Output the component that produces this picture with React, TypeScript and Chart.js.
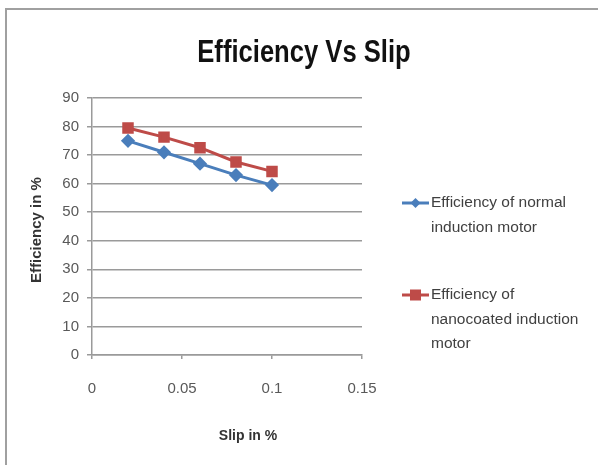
import React, { useEffect, useRef } from "react";
import { Chart, registerables } from "chart.js";

Chart.register(...registerables);

const slipValues = [0.02, 0.04, 0.06, 0.08, 0.1];
const normalEfficiency = [75, 71, 67, 63, 59.5];
const nanoEfficiency = [79.5, 76.3, 72.6, 67.6, 64.3];
const normalLegend = ["Efficiency of normal", "induction motor"];
const nanoLegend = ["Efficiency of", "nanocoated induction", "motor"];
const chartTitle = "Efficiency Vs Slip";
const xAxisTitle = "Slip in %";
const yAxisTitle = "Efficiency in %";

const BLUE = "#4a7ebb";
const RED = "#be4b48";

const decorPlugin = {
  id: "decor",
  afterDraw(chart: any) {
    const ctx = chart.ctx;
    ctx.save();
    // Title (condensed sans)
    ctx.save();
    ctx.fillStyle = "#111";
    ctx.font = "bold 32px 'Liberation Sans'";
    ctx.textAlign = "center";
    ctx.textBaseline = "alphabetic";
    ctx.translate(304, 62);
    ctx.scale(0.8, 1);
    ctx.fillText(chartTitle, 0, 0);
    ctx.restore();

    // X axis title
    ctx.fillStyle = "#333";
    ctx.textAlign = "center";
    ctx.font = "bold 14px 'Liberation Sans'";
    ctx.textBaseline = "middle";
    ctx.fillText(xAxisTitle, 248, 436);

    // Y axis title
    ctx.save();
    ctx.translate(37, 230);
    ctx.rotate(-Math.PI / 2);
    ctx.font = "bold 15px 'Liberation Sans'";
    ctx.fillText(yAxisTitle, 0, 0);
    ctx.restore();

    // Legend
    const items = [
      { lines: normalLegend, color: BLUE, style: "rectRot", y: 203 },
      { lines: nanoLegend, color: RED, style: "rect", y: 295 },
    ];
    ctx.font = "15.5px 'Liberation Sans'";
    ctx.textAlign = "left";
    for (const it of items) {
      ctx.strokeStyle = it.color;
      ctx.lineWidth = 3;
      ctx.beginPath();
      ctx.moveTo(402, it.y);
      ctx.lineTo(429, it.y);
      ctx.stroke();
      ctx.fillStyle = it.color;
      const r = it.style === "rect" ? 5.5 : 5;
      if (it.style === "rect") {
        ctx.fillRect(415.5 - r, it.y - r, 2 * r, 2 * r);
      } else {
        ctx.beginPath();
        ctx.moveTo(415.5, it.y - r);
        ctx.lineTo(415.5 + r, it.y);
        ctx.lineTo(415.5, it.y + r);
        ctx.lineTo(415.5 - r, it.y);
        ctx.closePath();
        ctx.fill();
      }
      ctx.fillStyle = "#404040";
      ctx.textBaseline = "middle";
      it.lines.forEach((ln, i) => ctx.fillText(ln, 431, it.y + i * 24.5));
    }
    ctx.restore();
  },
};

export default function App() {
  const ref = useRef<HTMLCanvasElement>(null);
  useEffect(() => {
    document.body.style.margin = "0";
    const chart = new Chart(ref.current as HTMLCanvasElement, {
      type: "line",
      data: {
        datasets: [
          {
            label: normalLegend.join(" "),
            data: slipValues.map((x, i) => ({ x, y: normalEfficiency[i] })),
            borderColor: BLUE,
            backgroundColor: BLUE,
            borderWidth: 3,
            pointStyle: "rectRot",
            pointRadius: 5,
            tension: 0,
          },
          {
            label: nanoLegend.join(" "),
            data: slipValues.map((x, i) => ({ x, y: nanoEfficiency[i] })),
            borderColor: RED,
            backgroundColor: RED,
            borderWidth: 3,
            pointStyle: "rect",
            pointRadius: 6,
            tension: 0,
          },
        ],
      },
      options: {
        animation: false,
        responsive: false,
        devicePixelRatio: 1,
        layout: { padding: { left: 20, top: 98, right: 236, bottom: 20 } },
        plugins: {
          legend: { display: false },
          title: { display: false },
          tooltip: { enabled: false },
        },
        scales: {
          x: {
            type: "linear",
            min: 0,
            max: 0.15,
            ticks: {
              stepSize: 0.05,
              color: "#595959",
              font: { family: "'Liberation Sans'", size: 15 },
              padding: 21,
              callback: (v: any) => String(Math.round(Number(v) * 100) / 100),
            },
            grid: { drawOnChartArea: false, drawTicks: true, tickLength: 4, color: "#9a9a9a", lineWidth: 1.5 },
            border: { color: "#9a9a9a", width: 1.5 },
            afterFit: (s: any) => { s.height = 90; },
          },
          y: {
            min: 0,
            max: 90,
            ticks: {
              stepSize: 10,
              color: "#595959",
              font: { family: "'Liberation Sans'", size: 15 },
              padding: 8,
            },
            grid: { color: "#9a9a9a", lineWidth: 1.5, tickLength: 5 },
            border: { color: "#9a9a9a", width: 1.5 },
            afterFit: (s: any) => { s.width = 72; },
          },
        },
      },
      plugins: [decorPlugin],
    });
    return () => chart.destroy();
  }, []);
  return (
    <div style={{ position: "relative", width: 598, height: 465, background: "#fff", overflow: "hidden" }}>
      <div
        style={{
          position: "absolute",
          left: 5,
          top: 8,
          width: 700,
          height: 600,
          borderTop: "2px solid #a0a0a0",
          borderLeft: "2px solid #a0a0a0",
        }}
      />
      <canvas ref={ref} width={598} height={465} style={{ position: "absolute", left: 0, top: 0 }} />
    </div>
  );
}
